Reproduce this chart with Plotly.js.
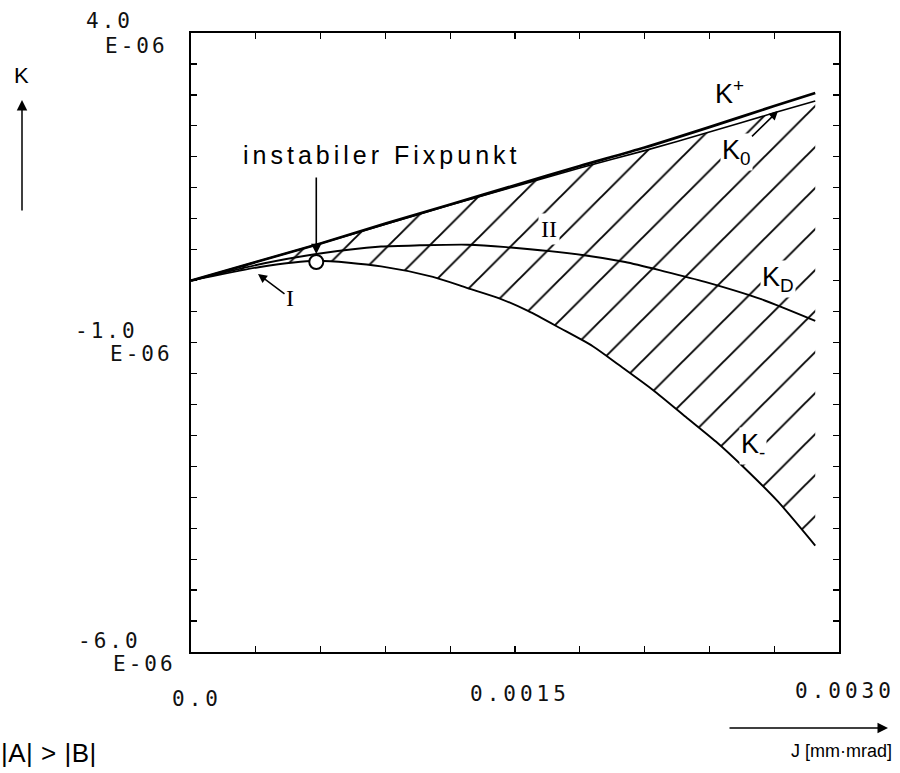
<!DOCTYPE html>
<html>
<head>
<meta charset="utf-8">
<script src="https://cdn.plot.ly/plotly-3.0.1.min.js"></script>
<style>
  html, body { margin: 0; padding: 0; background: #fff; }
  #chart { width: 900px; height: 773px; }
</style>
</head>
<body>
<div id="chart"></div>
<script>
// J in mm·mrad, K in units of 1E-06
const J_plus = [0, 0.0003, 0.0006, 0.0009, 0.0012, 0.0015, 0.0018, 0.0021, 0.0024, 0.0027, 0.00289];
const K_plus = [0, 0.30, 0.60, 0.92, 1.23, 1.54, 1.85, 2.15, 2.48, 2.82, 3.03];
const K_zero = [0, 0.30, 0.60, 0.91, 1.22, 1.52, 1.82, 2.10, 2.40, 2.71, 2.90];

const J_D = [0, 0.00034, 0.00058, 0.00088, 0.00106, 0.00128, 0.00146, 0.00182, 0.00201, 0.00219, 0.00238, 0.00264, 0.00289];
const K_D = [0, 0.28, 0.43, 0.55, 0.57, 0.58, 0.54, 0.41, 0.30, 0.15, -0.02, -0.30, -0.65];

const J_minus = [0, 0.00032, 0.00058, 0.00088, 0.00112, 0.00128, 0.00143, 0.00156, 0.00171, 0.00186, 0.00198, 0.00214, 0.00229, 0.00243, 0.00256, 0.00272, 0.00289];
const K_minus = [0, 0.22, 0.32, 0.23, 0.06, -0.12, -0.29, -0.49, -0.77, -1.06, -1.36, -1.77, -2.20, -2.60, -3.02, -3.58, -4.28];

const fixJ = [0.00058];
const fixK = [0.30];

const xTickLabels = ['0.0', '0.0015', '0.0030'];
const yTickMant = ['4.0', '-1.0', '-6.0'];
const yTickExp = ['E-06', 'E-06', 'E-06'];

// plot frame in pixels
const L = 191, T = 33, W = 648, H = 619, B = T + H;
const px = x => (x - L) / W;
const py = y => (B - y) / H;

const lineStyle = (w) => ({ color: '#000', width: w, shape: 'spline', smoothing: 0.7 });

const traces = [
  { x: J_minus, y: K_minus, mode: 'lines', line: lineStyle(1.9), hoverinfo: 'skip' },
  { x: J_plus, y: K_zero, mode: 'lines', line: lineStyle(1.6), fill: 'tonexty',
    fillcolor: 'rgba(0,0,0,0)',
    fillpattern: { shape: '/', size: 29, solidity: 0.065, fgcolor: '#000', fgopacity: 1, fillmode: 'overlay' },
    hoverinfo: 'skip' },
  { x: J_D, y: K_D, mode: 'lines', line: lineStyle(1.9), hoverinfo: 'skip' },
  { x: J_plus, y: K_plus, mode: 'lines', line: lineStyle(2.7), hoverinfo: 'skip' },
  { x: fixJ, y: fixK, mode: 'markers',
    marker: { symbol: 'circle', size: 14, color: '#fff', line: { color: '#000', width: 2 } },
    hoverinfo: 'skip' }
];

const sp = (t, ls) => '<span style="letter-spacing:' + ls + 'px">' + t + '</span>';
const monoFont = { family: 'DejaVu Sans Mono', size: 21, color: '#111' };
const sansFont = (s) => ({ family: 'Liberation Sans', size: s, color: '#000' });
const serifFont = (s) => ({ family: 'Liberation Serif', size: s, color: '#000' });

const ann = [];
// x tick labels
const xLabelCenters = [[197, 699], [520, 694], [845, 691]];
xTickLabels.forEach((t, i) => {
  ann.push({ xref: 'paper', yref: 'paper', x: px(xLabelCenters[i][0]), y: py(xLabelCenters[i][1]),
    xanchor: 'center', yanchor: 'middle', text: sp(t, 4), showarrow: false, font: monoFont });
});
// y tick labels (mantissa line and exponent line)
const yMantPos = [[135, 21], [140, 331], [143, 641]];
const yExpPos = [[170, 46], [175, 354], [178, 664]];
yTickMant.forEach((t, i) => {
  ann.push({ xref: 'paper', yref: 'paper', x: px(yMantPos[i][0]), y: py(yMantPos[i][1]),
    xanchor: 'right', yanchor: 'middle', text: sp(t, 3), showarrow: false, font: monoFont });
  ann.push({ xref: 'paper', yref: 'paper', x: px(yExpPos[i][0]), y: py(yExpPos[i][1]),
    xanchor: 'right', yanchor: 'middle', text: sp(yTickExp[i], 3), showarrow: false, font: monoFont });
});

// axis titles with arrows
ann.push({ xref: 'paper', yref: 'paper', x: px(21), y: py(75), text: 'K', showarrow: false,
  font: sansFont(22), xanchor: 'center', yanchor: 'middle' });
ann.push({ xref: 'paper', yref: 'paper', x: px(22), y: py(100), text: '', showarrow: true,
  ax: 0, ay: 112, arrowhead: 2, arrowsize: 1.4, arrowwidth: 1.5, arrowcolor: '#000' });
ann.push({ xref: 'paper', yref: 'paper', x: px(842), y: py(751), text: 'J [mm·mrad]', showarrow: false,
  font: sansFont(18), xanchor: 'center', yanchor: 'middle' });
ann.push({ xref: 'paper', yref: 'paper', x: px(888), y: py(728), text: '', showarrow: true,
  ax: -160, ay: 0, arrowhead: 2, arrowsize: 1.4, arrowwidth: 1.5, arrowcolor: '#000' });
ann.push({ xref: 'paper', yref: 'paper', x: px(99), y: py(753), text: sp('|A| > |B|', 0.5), showarrow: false,
  font: sansFont(26), xanchor: 'right', yanchor: 'middle' });

// fixpoint label and arrow
ann.push({ xref: 'paper', yref: 'paper', x: px(381), y: py(155), text: sp('instabiler Fixpunkt', 4), showarrow: false,
  font: sansFont(25), xanchor: 'center', yanchor: 'middle' });
ann.push({ xref: 'x', yref: 'y', x: fixJ[0], y: fixK[0], text: '', showarrow: true, standoff: 8,
  ax: 0, ay: -86, arrowhead: 2, arrowsize: 1.3, arrowwidth: 1.6, arrowcolor: '#000' });

// curve labels
ann.push({ xref: 'paper', yref: 'paper', x: px(729), y: py(92), text: 'K<sup>+</sup>', showarrow: false,
  font: sansFont(27), xanchor: 'center', yanchor: 'middle' });
ann.push({ xref: 'paper', yref: 'paper', x: px(778), y: py(111), text: 'K<sub>0</sub>', showarrow: true,
  ax: -42, ay: 41, arrowhead: 2, arrowsize: 1.2, arrowwidth: 1.5, arrowcolor: '#000',
  font: sansFont(27), bgcolor: '#fff', borderpad: 1 });
ann.push({ xref: 'paper', yref: 'paper', x: px(778), y: py(279), text: 'K<sub>D</sub>', showarrow: false,
  font: sansFont(27), xanchor: 'center', yanchor: 'middle', bgcolor: '#fff', borderpad: 1 });
ann.push({ xref: 'paper', yref: 'paper', x: px(753), y: py(446), text: 'K<sub>-</sub>', showarrow: false,
  font: sansFont(27), xanchor: 'center', yanchor: 'middle', bgcolor: '#fff', borderpad: 1 });
ann.push({ xref: 'paper', yref: 'paper', x: px(549), y: py(229), text: 'II', showarrow: false,
  font: serifFont(24), xanchor: 'center', yanchor: 'middle', bgcolor: '#fff', borderpad: 2 });
ann.push({ xref: 'paper', yref: 'paper', x: px(258), y: py(274), text: 'I', showarrow: true,
  ax: 32, ay: 24, arrowhead: 2, arrowsize: 1.2, arrowwidth: 1.5, arrowcolor: '#000',
  font: serifFont(24) });

const axisCommon = {
  showline: true, linecolor: '#000', linewidth: 1.6, mirror: 'ticks',
  ticks: 'inside', tickcolor: '#000', tickwidth: 1.2, ticklen: 6,
  showgrid: false, zeroline: false, showticklabels: false, fixedrange: true
};

const layout = {
  width: 900, height: 773,
  margin: { l: L, r: 900 - L - W, t: T, b: 773 - B, pad: 0 },
  paper_bgcolor: '#fff', plot_bgcolor: '#fff',
  showlegend: false,
  xaxis: Object.assign({}, axisCommon, { range: [0, 0.003], tick0: 0, dtick: 0.0003 }),
  yaxis: Object.assign({}, axisCommon, { range: [-6, 4], tick0: -6, dtick: 0.5 }),
  annotations: ann
};

Plotly.newPlot('chart', traces, layout, { staticPlot: true, displayModeBar: false });
</script>
</body>
</html>
